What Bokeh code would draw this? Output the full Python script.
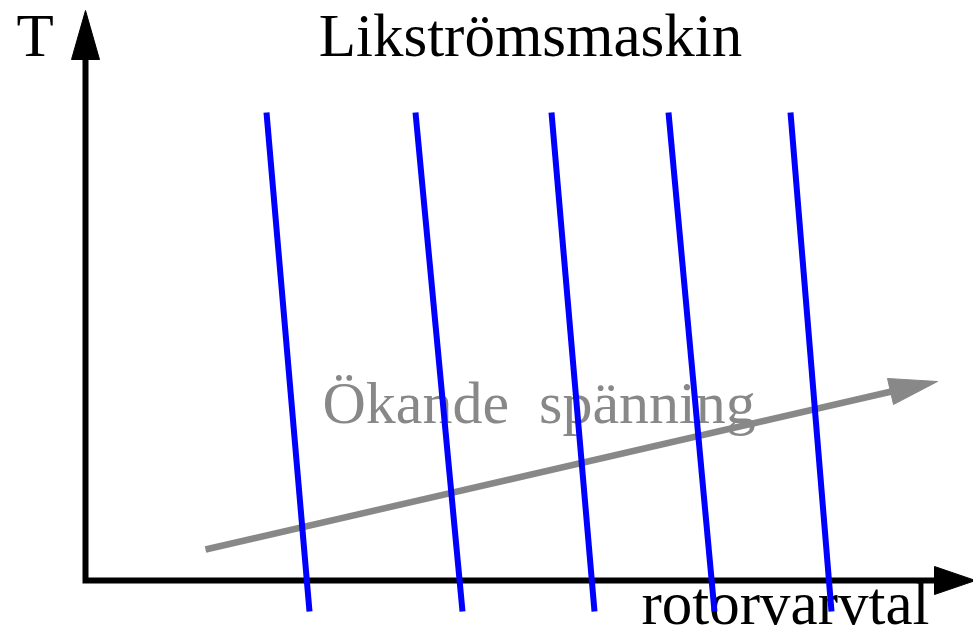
from bokeh.plotting import figure
from bokeh.models import Range1d
from bokeh.core.properties import value
from bokeh.embed import file_html
from bokeh.resources import INLINE

# ---- diagram data (in reference drawing units: x right, y down) ----
# blue torque-speed lines (DC machine, one per voltage level)
line_top_x = [266, 415, 551, 668, 790]
line_bot_x = [309, 462, 594, 714, 831]
line_top_y = [112, 112, 112, 112, 112]
line_bot_y = [611, 611, 611, 611, 611]

# axes polyline (T axis up, speed axis right)
axis_x = [85, 85, 936]
axis_y = [58, 580, 580]
# arrow heads of axes
yhead_x = [85, 71, 99]
yhead_y = [10, 59, 59]
xhead_x = [975, 934, 934]
xhead_y = [580, 566, 594]

# gray "increasing voltage" arrow
gray_x = [205, 891]
gray_y = [549, 391]
grayhead_x = [937, 887, 893]
grayhead_y = [381, 378, 404]

# labels
label_text = ["Likströmsmaskin", "T", "rotorvarvtal"]
label_x = [530, 16, 641]
label_y = [35, 35, 603]
label_align = ["center", "left", "left"]
gray_label = ["Ökande\u00a0 spänning"]
gray_label_x = [322]
gray_label_y = [402]

W, H = 973, 636
p = figure(width=W, height=H, output_backend="svg", toolbar_location=None,
           x_range=Range1d(0, 973), y_range=Range1d(636, 0),
           min_border=0, min_border_left=0, min_border_right=0,
           min_border_top=0, min_border_bottom=0)
p.xaxis.visible = False
p.yaxis.visible = False
p.grid.visible = False
p.outline_line_color = None
p.background_fill_color = "white"
p.border_fill_color = "white"

# labels (drawn first, lines cross over them)
for t, x, y, a in zip(label_text, label_x, label_y, label_align):
    p.text(x=[x], y=[y], text=[t], text_align=a, text_baseline="alphabetic",
           text_font=value("Liberation Serif"), text_font_size="61px",
           text_color="black")
p.text(x=gray_label_x, y=gray_label_y, text=gray_label, text_align="left",
       text_baseline="alphabetic", text_font=value("Liberation Serif"),
       text_font_size="60px", text_color="#888888")

# axes
p.line(axis_x, axis_y, line_color="black", line_width=6, line_join="miter", line_cap="butt")
p.patch(yhead_x, yhead_y, fill_color="black", line_color="black", line_width=1)
p.patch(xhead_x, xhead_y, fill_color="black", line_color="black", line_width=1)

# gray arrow
p.line(gray_x, gray_y, line_color="#888888", line_width=6.5, line_cap="butt")
p.patch(grayhead_x, grayhead_y, fill_color="#888888", line_color="#888888", line_width=1)

# blue lines (on top)
p.segment(x0=line_top_x, y0=line_top_y, x1=line_bot_x, y1=line_bot_y,
          line_color="#0000ff", line_width=6, line_cap="butt")

open("out.html", "w").write(file_html(p, INLINE))
